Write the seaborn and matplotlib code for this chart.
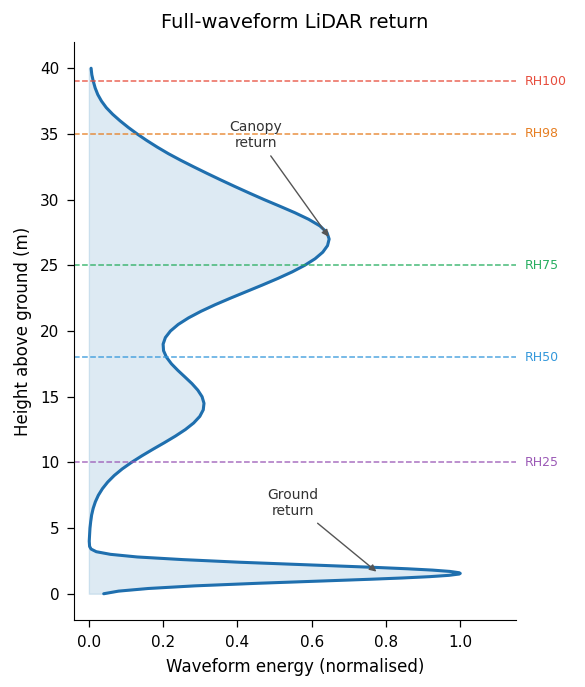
import pandas as pd
import matplotlib
matplotlib.use("Agg")
import matplotlib.pyplot as plt
import seaborn as sns

# Waveform profile (height in m -> normalised energy)
height = [0.0, 0.2, 0.4, 0.6, 0.8, 1.0, 1.1, 1.2, 1.3, 1.4, 1.5, 1.55, 1.6, 1.7, 1.8,
          1.9, 2.0, 2.2, 2.4, 2.6, 2.8, 3.0, 3.2, 3.4, 3.6, 3.8,
          4.0, 4.5, 5.0, 5.5, 6.0, 6.5, 7.0, 7.5, 8.0, 8.5, 9.0, 9.5,
          10.0, 10.5, 11.0, 11.5, 12.0, 12.5, 13.0, 13.5, 14.0, 14.5, 15.0, 15.5,
          16.0, 16.5, 17.0, 17.5, 18.0, 18.5, 19.0, 19.5, 20.0, 20.5, 21.0, 21.5,
          22.0, 22.5, 23.0, 23.5, 24.0, 24.5, 25.0, 25.5, 26.0, 26.5, 27.0, 27.5,
          28.0, 28.5, 29.0, 29.5, 30.0, 30.5, 31.0, 31.5, 32.0, 32.5, 33.0, 33.5,
          34.0, 34.5, 35.0, 35.5, 36.0, 36.5, 37.0, 37.5, 38.0, 38.5, 39.0, 39.5,
          40.0]
energy = [0.04, 0.08, 0.16, 0.285, 0.458, 0.657, 0.755, 0.844, 0.917, 0.969, 0.997, 1.0,
          0.997, 0.972, 0.925, 0.858, 0.776, 0.590, 0.405, 0.252, 0.130, 0.058, 0.020,
          0.006, 0.002, 0.0015,
          0.001, 0.002, 0.003, 0.005, 0.0075, 0.0116, 0.0175, 0.0256, 0.0366, 0.0507,
          0.0683, 0.0897,
          0.1149, 0.1428, 0.1726, 0.2034, 0.233, 0.2599, 0.2822, 0.2987, 0.308, 0.310,
          0.3048, 0.2933,
          0.2774, 0.2587, 0.2397, 0.2224, 0.2091, 0.2011, 0.1999, 0.206, 0.2197, 0.2406,
          0.2684, 0.3019,
          0.3399, 0.3812, 0.4242, 0.4672, 0.5088, 0.5474, 0.5812, 0.6091, 0.6298, 0.6426,
          0.647, 0.641,
          0.622, 0.592, 0.555, 0.514, 0.472, 0.432, 0.393, 0.355, 0.318, 0.282, 0.247,
          0.214,
          0.184, 0.156, 0.130, 0.106, 0.084, 0.064, 0.047, 0.034, 0.024, 0.017, 0.012,
          0.008,
          0.006]

# Relative height metrics
rh_labels = ["RH100", "RH98", "RH75", "RH50", "RH25"]
rh_heights = [39, 35, 25, 18, 10]
rh_colors = ["#e74c3c", "#e67e22", "#27ae60", "#3498db", "#9b59b6"]

df = pd.DataFrame({"height": height, "energy": energy})

sns.set_style("ticks", {"axes.edgecolor": "black", "axes.labelcolor": "black",
                        "text.color": "black", "xtick.color": "black",
                        "ytick.color": "black"})
line_color = "#1f6fae"

fig = plt.figure(figsize=(5.85, 6.87), dpi=100)
fig.subplots_adjust(left=0.1265, right=0.882, bottom=0.0975, top=0.9389)
ax = fig.add_subplot(111)

ax.fill_betweenx(df["height"], 0, df["energy"], color="#1f77b4", alpha=0.15)
sns.lineplot(data=df, x="energy", y="height", orient="y", estimator=None,
             color=line_color, lw=2.2, ax=ax)

for lab, h, c in zip(rh_labels, rh_heights, rh_colors):
    ax.axhline(h, color=c, ls="--", lw=1.1, alpha=0.85)
    ax.text(1.02, h, lab, color=c, fontsize=9, va="center", ha="left",
            transform=ax.get_yaxis_transform())

ax.annotate("Canopy\nreturn", xy=(0.65, 27.0), xytext=(0.45, 34.9),
            ha="center", va="center", fontsize=10, color="#333333",
            arrowprops=dict(arrowstyle="-|>", color="#555555", lw=1))
ax.annotate("Ground\nreturn", xy=(0.78, 1.55), xytext=(0.55, 6.9),
            ha="center", va="center", fontsize=10, color="#333333",
            arrowprops=dict(arrowstyle="-|>", color="#555555", lw=1))

ax.set_xlim(-0.04, 1.15)
ax.set_ylim(-2, 42)
ax.set_xlabel("Waveform energy (normalised)", fontsize=12, labelpad=6)
ax.set_ylabel("Height above ground (m)", fontsize=12, labelpad=6)
ax.set_title("Full-waveform LiDAR return", fontsize=14, pad=10)
ax.tick_params(labelsize=11, length=5, width=0.9, pad=5.5)
sns.despine(ax=ax)

fig.savefig("out.png", dpi=100)
